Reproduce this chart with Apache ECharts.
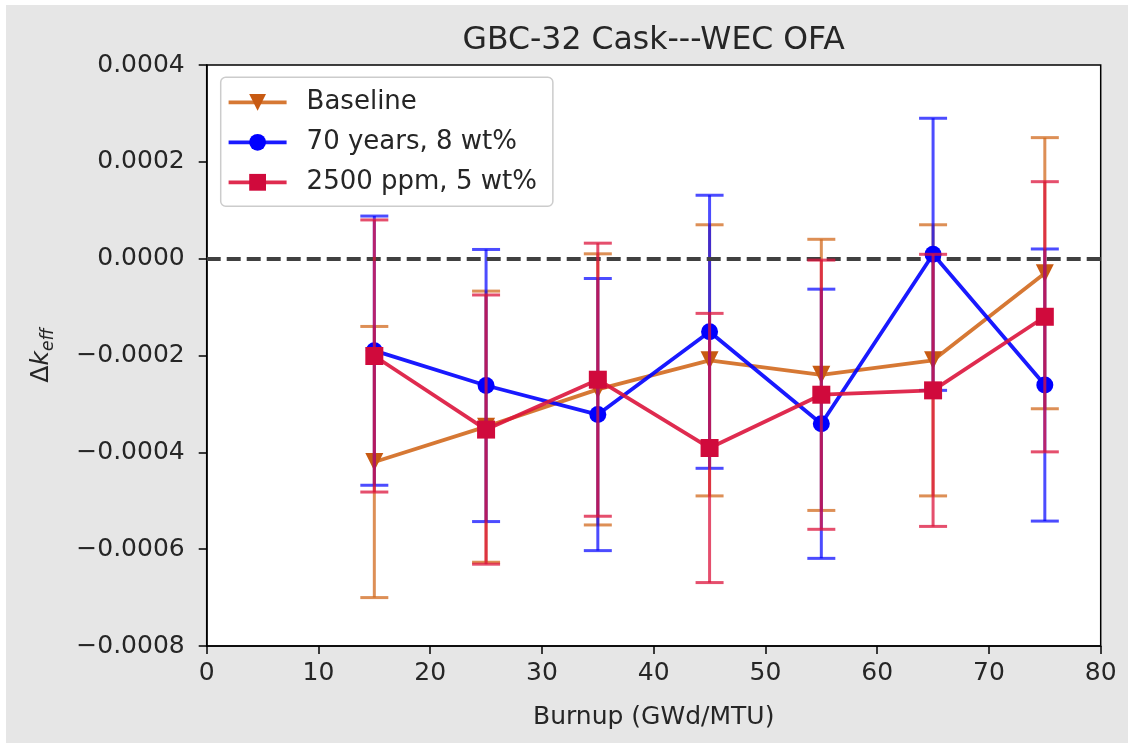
<!DOCTYPE html>
<html lang="en">

<head>
    <meta charset="UTF-8">
    <title>GBC-32 Cask---WEC OFA</title>
    <style>
        * {
            padding: 0;
            margin: 0;
        }

        body {
            background: #fff;
        }

        #chart {
            position: absolute;
            left: 6px;
            top: 5px;
            width: 1122px;
            height: 738px;
        }
    </style>
</head>

<body>
    <div id="chart"></div>
    <script src="https://cdn.jsdelivr.net/npm/echarts@6/dist/echarts.min.js"></script>
    <script>
        let mychart = echarts.init(document.getElementById('chart'))

        // burnup (GWd/MTU)
        const burnup = [15, 25, 35, 45, 55, 65, 75]

        // delta k_eff and its error bar half-width
        const baseline = [-0.00042, -0.000347, -0.00027, -0.00021, -0.00024, -0.00021, -0.00003]
        const baselineErr = [0.00028, 0.00028, 0.00028, 0.00028, 0.00028, 0.00028, 0.00028]
        const years70 = [-0.00019, -0.000262, -0.000322, -0.000151, -0.000341, 0.000009, -0.000261]
        const years70Err = [0.000278, 0.000281, 0.000281, 0.000282, 0.000278, 0.000281, 0.000281]
        const ppm2500 = [-0.000201, -0.000353, -0.00025, -0.000391, -0.000281, -0.000272, -0.00012]
        const ppm2500Err = [0.000281, 0.000278, 0.000282, 0.000278, 0.000278, 0.000281, 0.000279]

        const xTicks = [0, 10, 20, 30, 40, 50, 60, 70, 80]
        const yTicks = [-0.0008, -0.0006, -0.0004, -0.0002, 0, 0.0002, 0.0004]

        const font = 'DejaVu Sans'
        const textColor = '#262626'

        const groups = [
            { name: 'Baseline', y: baseline, err: baselineErr, line: 'rgba(210,105,30,0.9)', mark: '#c85a12', bar: 'rgba(210,105,30,0.75)',
              symbol: 'path://M0,0 L10,0 L5,9 Z', size: 18 },
            { name: '70 years, 8 wt%', y: years70, err: years70Err, line: 'rgba(0,0,255,0.9)', mark: '#0000ff', bar: 'rgba(0,0,255,0.7)',
              symbol: 'circle', size: 17 },
            { name: '2500 ppm, 5 wt%', y: ppm2500, err: ppm2500Err, line: 'rgba(220,20,60,0.9)', mark: '#d00a3c', bar: 'rgba(220,20,60,0.75)',
              symbol: 'rect', size: 18 }
        ]

        function errorBars(color) {
            return function (params, api) {
                const x = api.value(0)
                const y = api.value(1)
                const e = api.value(2)
                const hi = api.coord([x, y + e])
                const lo = api.coord([x, y - e])
                const cap = 14
                const style = { stroke: color, lineWidth: 3, fill: null }
                return {
                    type: 'group',
                    children: [
                        { type: 'line', shape: { x1: hi[0], y1: hi[1], x2: lo[0], y2: lo[1] }, style: style },
                        { type: 'line', shape: { x1: hi[0] - cap, y1: hi[1], x2: hi[0] + cap, y2: hi[1] }, style: style },
                        { type: 'line', shape: { x1: lo[0] - cap, y1: lo[1], x2: lo[0] + cap, y2: lo[1] }, style: style }
                    ]
                }
            }
        }

        let series = [{
            name: 'zero',
            type: 'line',
            data: [],
            z: 1,
            markLine: {
                silent: true,
                symbol: 'none',
                label: { show: false },
                lineStyle: { type: [14, 6], width: 4, color: '#404040' },
                data: [{ yAxis: 0 }]
            }
        }]

        groups.forEach(function (g, i) {
            series.push({
                name: g.name + ' err',
                type: 'custom',
                z: 2 + i * 2,
                renderItem: errorBars(g.bar),
                encode: { x: 0, y: 1 },
                data: burnup.map((b, j) => [b, g.y[j], g.err[j]])
            })
            series.push({
                name: g.name,
                type: 'line',
                z: 3 + i * 2,
                symbol: g.symbol,
                symbolSize: g.size,
                showAllSymbol: true,
                lineStyle: { color: g.line, width: 3.8 },
                itemStyle: { color: g.mark },
                data: burnup.map((b, j) => [b, g.y[j]])
            })
        })

        let options = {
            animation: false,
            backgroundColor: '#e6e6e6',
            title: {
                text: 'GBC-32 Cask---WEC OFA',
                left: 647.7,
                top: 20,
                textAlign: 'center',
                padding: 0,
                textStyle: { fontFamily: font, fontSize: 31.5, fontWeight: 'normal', color: textColor }
            },
            grid: {
                show: true,
                left: 200.7,
                right: 27.3,
                top: 60,
                bottom: 97,
                backgroundColor: '#fff',
                borderColor: '#000',
                borderWidth: 1.5
            },
            legend: {
                orient: 'vertical',
                left: 214.7,
                top: 72.3,
                padding: [10, 16, 9, 6],
                itemWidth: 58,
                itemHeight: 21,
                itemGap: 10,
                backgroundColor: 'rgba(255,255,255,0.85)',
                borderColor: '#cccccc',
                borderWidth: 1.5,
                borderRadius: 5,
                lineStyle: { width: 3.8 },
                data: groups.map(g => g.name),
                textStyle: { fontFamily: font, fontSize: 26, color: textColor, lineHeight: 30, padding: [0, 0, 0, 15] }
            },
            xAxis: {
                type: 'value',
                min: xTicks[0],
                max: xTicks[xTicks.length - 1],
                interval: 10,
                name: 'Burnup (GWd/MTU)',
                nameLocation: 'middle',
                nameGap: 59,
                nameTextStyle: { fontFamily: font, fontSize: 25, color: textColor },
                axisLine: { show: true, onZero: false, lineStyle: { color: '#000', width: 1.5 } },
                axisTick: { show: true, inside: false, length: 8, lineStyle: { color: '#000', width: 1.5 } },
                axisLabel: { margin: 15, fontFamily: font, fontSize: 25, color: textColor },
                splitLine: { show: false }
            },
            yAxis: {
                type: 'value',
                min: yTicks[0],
                max: yTicks[yTicks.length - 1],
                interval: 0.0002,
                name: '{d|Δ}{k|k}{s|eff}',
                nameLocation: 'middle',
                nameGap: 150,
                nameTextStyle: {
                    fontFamily: font,
                    color: textColor,
                    rich: {
                        d: { fontFamily: font, fontSize: 25, color: textColor },
                        k: { fontFamily: font, fontSize: 25, fontStyle: 'italic', color: textColor },
                        s: { fontFamily: font, fontSize: 17, fontStyle: 'italic', color: textColor, padding: [14, 0, 0, 0] }
                    }
                },
                axisLine: { show: true, onZero: false, lineStyle: { color: '#000', width: 1.5 } },
                axisTick: { show: true, inside: false, length: 8, lineStyle: { color: '#000', width: 1.5 } },
                axisLabel: {
                    margin: 22,
                    fontFamily: font,
                    fontSize: 25,
                    color: textColor,
                    formatter: function (v) {
                        const s = Math.abs(v).toFixed(4)
                        return (v < -1e-12 ? '\u2212' : '') + s
                    }
                },
                splitLine: { show: false }
            },
            series: series
        }

        mychart.setOption(options);
    </script>
</body>

</html>
